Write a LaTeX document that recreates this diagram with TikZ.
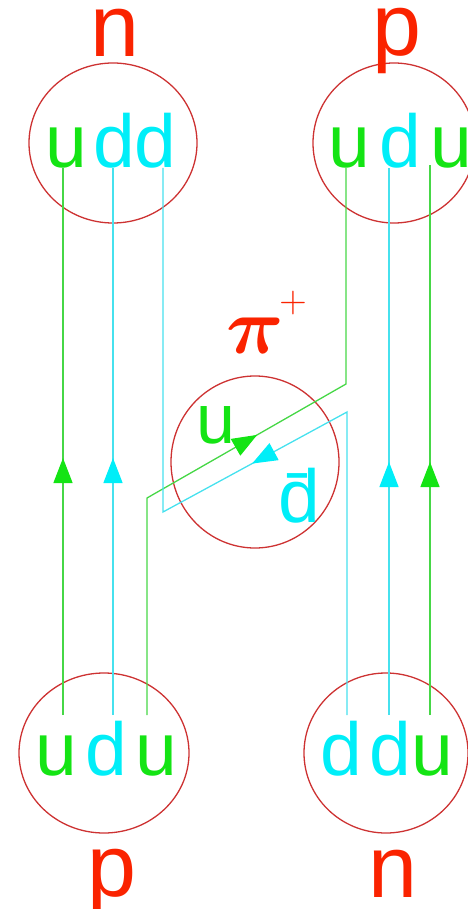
\RequirePackage{fix-cm}
\documentclass[tikz,border=0pt]{standalone}
\usepackage{bm}
\usepackage{fontspec}
\setmainfont{Liberation Sans}
\usetikzlibrary{arrows.meta,decorations.markings,shapes.geometric}
\definecolor{qgreen}{RGB}{20,228,20}
\definecolor{qcyan}{RGB}{0,238,248}
\definecolor{lgreen}{RGB}{70,215,70}
\definecolor{lcyan}{RGB}{70,225,238}
\definecolor{labred}{RGB}{250,35,0}
\definecolor{ringred}{RGB}{205,50,50}
\begin{document}
\begin{tikzpicture}[x=1pt,y=-1pt,
  quark/.style={anchor=base,inner sep=0pt,font=\fontsize{75}{80}\selectfont},
  gq/.style={quark,text=qgreen},
  cq/.style={quark,text=qcyan},
  hadron/.style={anchor=base,inner sep=0pt,text=labred,font=\fontsize{88}{90}\selectfont},
  ring/.style={draw=ringred,line width=1.3pt,ellipse,inner sep=0pt},
  gl/.style={draw=lgreen,line width=1.3pt},
  cl/.style={draw=lcyan,line width=1.3pt},
  tipat/.style 2 args={postaction={decorate},decoration={markings,
    mark=at position #1 with {\arrow{Triangle[length=25pt,width=19pt,color=#2]}}}}
]
\useasboundingbox (0,0) rectangle (467,909);

% hadron rings
\node[ring,minimum width=168pt,minimum height=160pt] (rtl) at (113,143) {};
\node[ring,minimum width=162pt,minimum height=160pt] (rtr) at (394,143) {};
\node[ring,minimum width=170pt,minimum height=160pt] (rbl) at (104,753) {};
\node[ring,minimum width=164pt,minimum height=160pt] (rbr) at (386,753) {};
\node[ring,minimum width=168pt,minimum height=172pt] (rpi) at (255,462) {};

% hadron labels
\node[hadron] (ntop) at (115,57) {n};
\node[hadron] (ptop) at (397,56) {p};
\node[hadron] (pbot) at (112,896) {p};
\node[hadron] (nbot) at (393,897) {n};
\node[anchor=base,inner sep=0pt,text=labred,font=\fontsize{80}{84}\selectfont] (pi) at (255,353) {$\bm{\pi}$};
\node[inner sep=0pt,text=labred,font=\fontsize{38}{40}\selectfont] (plus) at (293,303) {$+$};

% quarks
\node[gq] (tlu) at (66,168) {u};
\node[cq] (tld1) at (114.5,168) {d};
\node[cq] (tld2) at (155.5,168) {d};
\node[gq] (tru1) at (349,168) {u};
\node[cq] (trd) at (400,168) {d};
\node[gq] (tru2) at (451,168) {u};
\node[gq] (blu1) at (56,775) {u};
\node[cq] (bld) at (106,775) {d};
\node[gq] (blu2) at (156,775) {u};
\node[cq] (brd1) at (341,775) {d};
\node[cq] (brd2) at (390,775) {d};
\node[gq] (bru) at (432,775) {u};
\node[gq,font=\fontsize{70}{74}\selectfont] (piu) at (216,443) {u};
\node[cq] (pid) at (299,522) {\=d};

% line end points
\coordinate (a1) at (63,715);  \coordinate (a2) at (63,168);
\coordinate (b1) at (113,715); \coordinate (b2) at (113,168);
\coordinate (c1) at (389,715); \coordinate (c2) at (389,168);
\coordinate (d1) at (430,715); \coordinate (d2) at (430,165);
\coordinate (g0) at (147,715); \coordinate (g1) at (147,498);
\coordinate (g2) at (346,384); \coordinate (g3) at (346,168);
\coordinate (h0) at (347,715); \coordinate (h1) at (347,412);
\coordinate (h2) at (163,512); \coordinate (h3) at (163,168);

% spectator quark lines
\draw[gl,tipat={257pt}{qgreen}] (a1) -- (a2);
\draw[cl,tipat={257pt}{qcyan}] (b1) -- (b2);
\draw[cl,tipat={253pt}{qcyan}] (c1) -- (c2);
\draw[gl,tipat={253pt}{qgreen}] (d1) -- (d2);

% exchanged quark lines
\draw[gl,tipat={344pt}{qgreen}] (g0) -- (g1) -- (g2) -- (g3);
\draw[cl,tipat={411pt}{qcyan}] (h0) -- (h1) -- (h2) -- (h3);
\end{tikzpicture}
\end{document}
